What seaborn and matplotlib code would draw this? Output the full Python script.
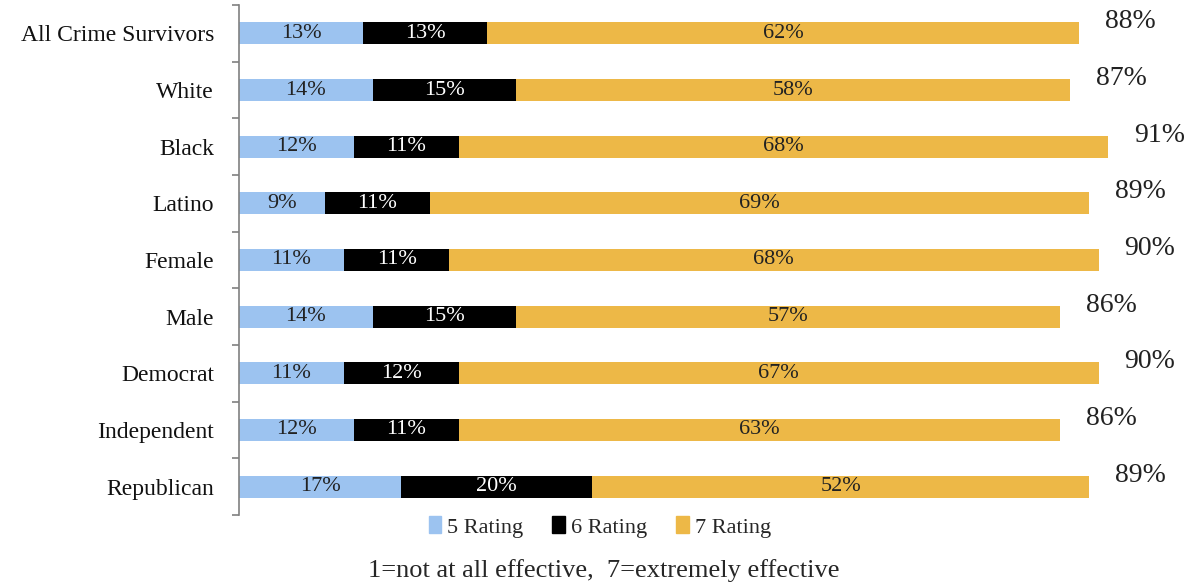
import numpy as np
import pandas as pd
import matplotlib
matplotlib.use("Agg")
import matplotlib.pyplot as plt
from matplotlib.patches import Patch
import seaborn as sns

# data
groups = ["All Crime Survivors", "White", "Black", "Latino", "Female",
          "Male", "Democrat", "Independent", "Republican"]
rating5 = [13, 14, 12, 9, 11, 14, 11, 12, 17]
rating6 = [13, 15, 11, 11, 11, 15, 12, 11, 20]
rating7 = [62, 58, 68, 69, 68, 57, 67, 63, 52]
totals = [88, 87, 91, 89, 90, 86, 90, 86, 89]

c5 = "#9cc3f0"
c6 = "#000000"
c7 = "#edb847"

df = pd.DataFrame({"group": groups, "r5": rating5, "r6": rating6, "r7": rating7})
df["c2"] = df["r5"] + df["r6"]
df["c3"] = df["c2"] + df["r7"]

sns.set_style("white")
plt.rcParams["font.family"] = ["Liberation Serif", "DejaVu Serif"]

fig = plt.figure(figsize=(11.88, 5.85), dpi=100)
ax = fig.add_axes([239 / 1188, 1 - 515 / 585, 955 / 1188, 510 / 585])

bw = 0.39
# stacked by drawing cumulative sums back to front
for col, colr in [("c3", c7), ("c2", c6), ("r5", c5)]:
    sns.barplot(data=df, x=col, y="group", color=colr, orient="h", width=bw,
                ax=ax, saturation=1, linewidth=0)

ax.set_xlim(0, 100)
ax.set_ylim(8.5, -0.5)
ax.set_xlabel("")
ax.set_ylabel("")
ax.set_xticks([])

for s in ["top", "right", "bottom"]:
    ax.spines[s].set_visible(False)
ax.spines["left"].set_color("#808080")
ax.spines["left"].set_linewidth(1.2)

# ticks between categories, labels at centers
ax.set_yticks(np.arange(len(groups)))
ax.set_yticklabels(groups, fontsize=17, color="#111111")
ax.set_yticks(np.arange(-0.5, len(groups)), minor=True)
ax.tick_params(axis="y", which="major", length=0, pad=18)
ax.tick_params(axis="y", which="minor", left=True, length=5, color="#808080",
               width=1.2, direction="out")

for i in range(len(groups)):
    a, b, c = rating5[i], rating6[i], rating7[i]
    ax.text(a / 2, i, f"{a}%", ha="center", va="center", fontsize=16, color="#222222")
    ax.text(a + b / 2, i, f"{b}%", ha="center", va="center", fontsize=16, color="white")
    ax.text(a + b + c / 2, i, f"{c}%", ha="center", va="center", fontsize=16, color="#222222")
    ax.text(totals[i] + 2.7, i - 0.2, f"{totals[i]}%", ha="left", va="center",
            fontsize=20, color="#222222")

handles = [Patch(color=c5, label="5 Rating"), Patch(color=c6, label="6 Rating"),
           Patch(color=c7, label="7 Rating")]
fig.legend(handles=handles, loc="center", bbox_to_anchor=(0.505, 1 - 527 / 585),
           ncol=3, frameon=False, fontsize=16, handlelength=0.55, handleheight=0.8,
           handletextpad=0.3, columnspacing=1.3)

fig.text(0.508, 1 - 571 / 585, "1=not at all effective,  7=extremely effective",
         ha="center", va="center", fontsize=19)

fig.savefig("out.png", dpi=100)
